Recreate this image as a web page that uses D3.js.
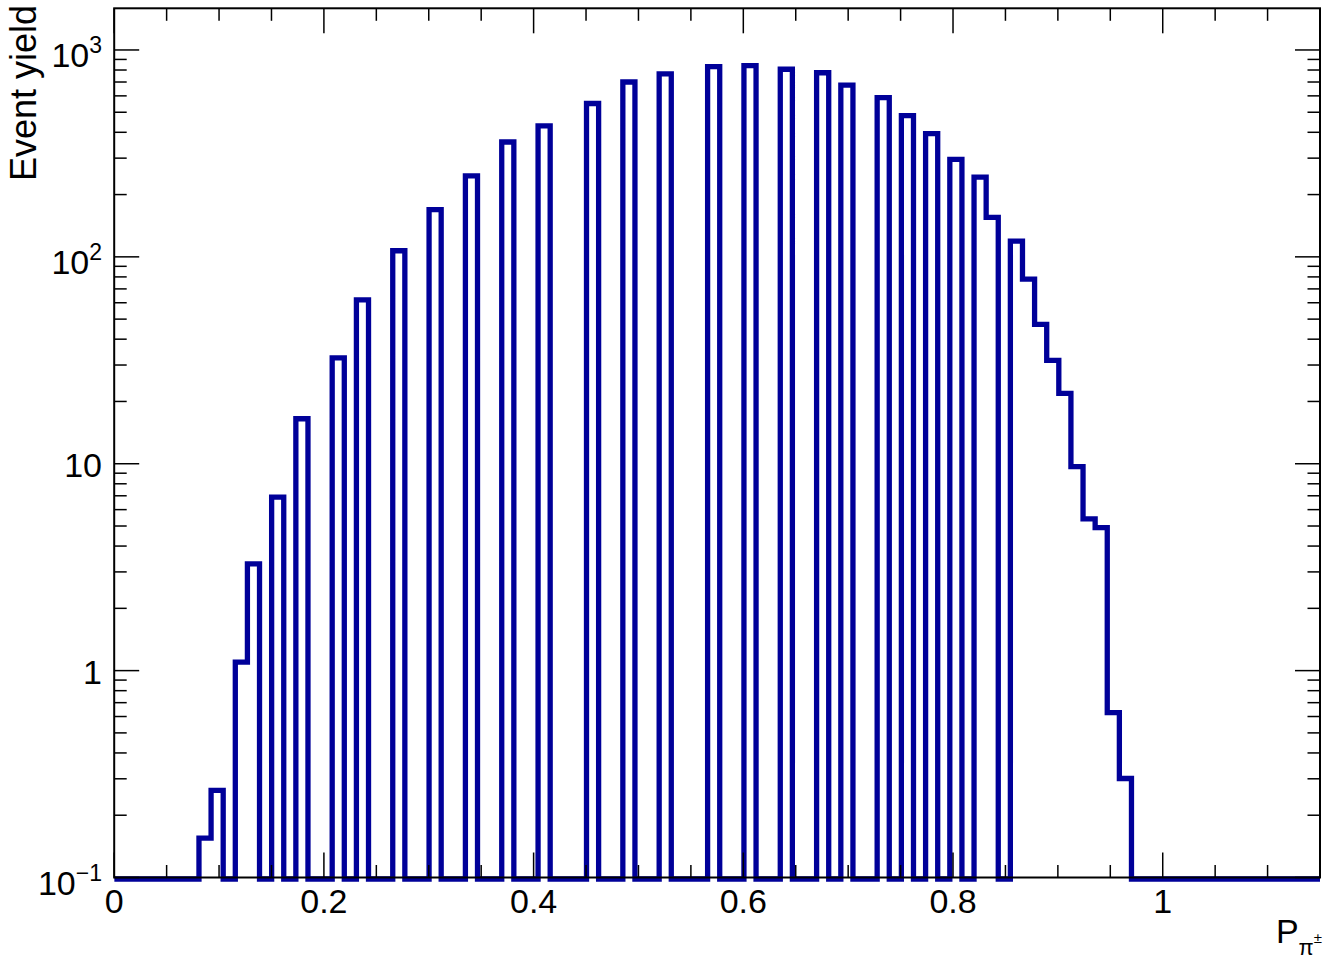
<!DOCTYPE html>
<html><head><meta charset="utf-8">
<script src="https://cdn.jsdelivr.net/npm/d3@7"></script>
<style>
body{margin:0;background:#fff}
svg{display:block}
text{font-family:"Liberation Sans",Arial,Helvetica,sans-serif;fill:#000}
</style>
</head><body>
<svg id="c" width="1325" height="960"></svg>
<script>
// ---- data ----
const binStart = 0;
const binWidth = 0.01155;
const counts = [
  0,0,0,0,0,0,0,0.155,0.264,0,
  1.10,3.28,0,6.9,0,16.5,0,0,32.5,0,
  62,0,0,107,0,0,169,0,0,246,
  0,0,359,0,0,430,0,0,0,551,
  0,0,700,0,0,767,0,0,0,830,
  0,0,840,0,0,807,0,0,776,0,
  676,0,0,588,0,482,0,394,0,296,
  0,243,155,0,119,78,47.2,31.6,21.9,9.69,
  5.41,4.91,0.626,0.301,0,0,0,0,0,0,
  0,0,0,0,0,0,0,0,0,0
];
const xMajorTicks = [0,0.2,0.4,0.6,0.8,1];
const xTickLabels = ["0","0.2","0.4","0.6","0.8","1"];
const yDecades = [0.1,1,10,100,1000];
const yLabelBase = ["10","1","10","10","10"];
const yLabelExp = ["\u22121","","","2","3"];
const xDomain = [0,1.15];
const yDomain = [0.1,1590];

// ---- layout ----
const L = 114.2, R = 1320, T = 8.3, B = 877.5;
const svg = d3.select("#c");
const x = d3.scaleLinear().domain(xDomain).range([L,R]).clamp(true);
const y = d3.scaleLog().domain(yDomain).range([B,T]).clamp(true);

// histogram outline
const pts = [];
counts.forEach((v,i)=>{
  const x0 = binStart + i*binWidth, x1 = x0 + binWidth;
  const yy = v > yDomain[0] ? y(v) : y(yDomain[0]) + 1.5;
  pts.push([x(x0), yy],[x(x1), yy]);
});
svg.append("defs").append("clipPath").attr("id","clip")
  .append("rect").attr("x",L).attr("y",T-3).attr("width",R-L).attr("height",B-T+8);
svg.append("path")
  .attr("clip-path","url(#clip)")
  .attr("d", d3.line()(pts))
  .attr("fill","none").attr("stroke","#000099")
  .attr("stroke-width",5.3).attr("stroke-linejoin","miter");

// frame
const g = svg.append("g").attr("stroke","#000").attr("fill","none");
g.append("rect").attr("x",L).attr("y",T).attr("width",R-L).attr("height",B-T).attr("stroke-width",2);

// x ticks (bottom and top)
const xMinor = d3.range(0, xDomain[1]+1e-9, 0.05);
xMinor.forEach(v=>{
  const isMajor = xMajorTicks.some(m=>Math.abs(m-v)<1e-6);
  const len = isMajor ? 25 : 12.5;
  const px = x(v);
  g.append("line").attr("x1",px).attr("x2",px).attr("y1",B).attr("y2",B-len).attr("stroke-width",1.5);
  g.append("line").attr("x1",px).attr("x2",px).attr("y1",T).attr("y2",T+len).attr("stroke-width",1.5);
});
// y ticks (left and right)
yDecades.forEach(d=>{
  const vals = [[d,true]];
  for(let m=2;m<=9;m++){ if(m*d<=yDomain[1]) vals.push([m*d,false]); }
  vals.forEach(([v,maj])=>{
    const py = y(v), len = maj ? 25 : 12.5;
    g.append("line").attr("x1",L).attr("x2",L+len).attr("y1",py).attr("y2",py).attr("stroke-width",1.5);
    g.append("line").attr("x1",R).attr("x2",R-len).attr("y1",py).attr("y2",py).attr("stroke-width",1.5);
  });
});

// x tick labels
xMajorTicks.forEach((v,i)=>{
  svg.append("text").attr("x",x(v)).attr("y",913).attr("text-anchor","middle")
    .attr("font-size",34).text(xTickLabels[i]);
});
// y tick labels
yDecades.forEach((d,i)=>{
  const t = svg.append("text").attr("x",102).attr("y",y(d)+(yLabelExp[i]?17:13)).attr("text-anchor","end").attr("font-size",34);
  t.append("tspan").text(yLabelBase[i]);
  if(yLabelExp[i]) t.append("tspan").attr("font-size",23).attr("dy",-14).text(yLabelExp[i]);
});

// axis titles
svg.append("text").attr("transform","translate(36,5) rotate(-90)")
  .attr("text-anchor","end").attr("font-size",36).text("Event yield");
const xt = svg.append("text").attr("x",1322).attr("y",943).attr("text-anchor","end").attr("font-size",34);
xt.append("tspan").text("P");
xt.append("tspan").attr("font-size",22).attr("dy",12).text("\u03c0");
xt.append("tspan").attr("font-size",15).attr("dy",-12).text("\u00b1");
</script>
</body></html>
